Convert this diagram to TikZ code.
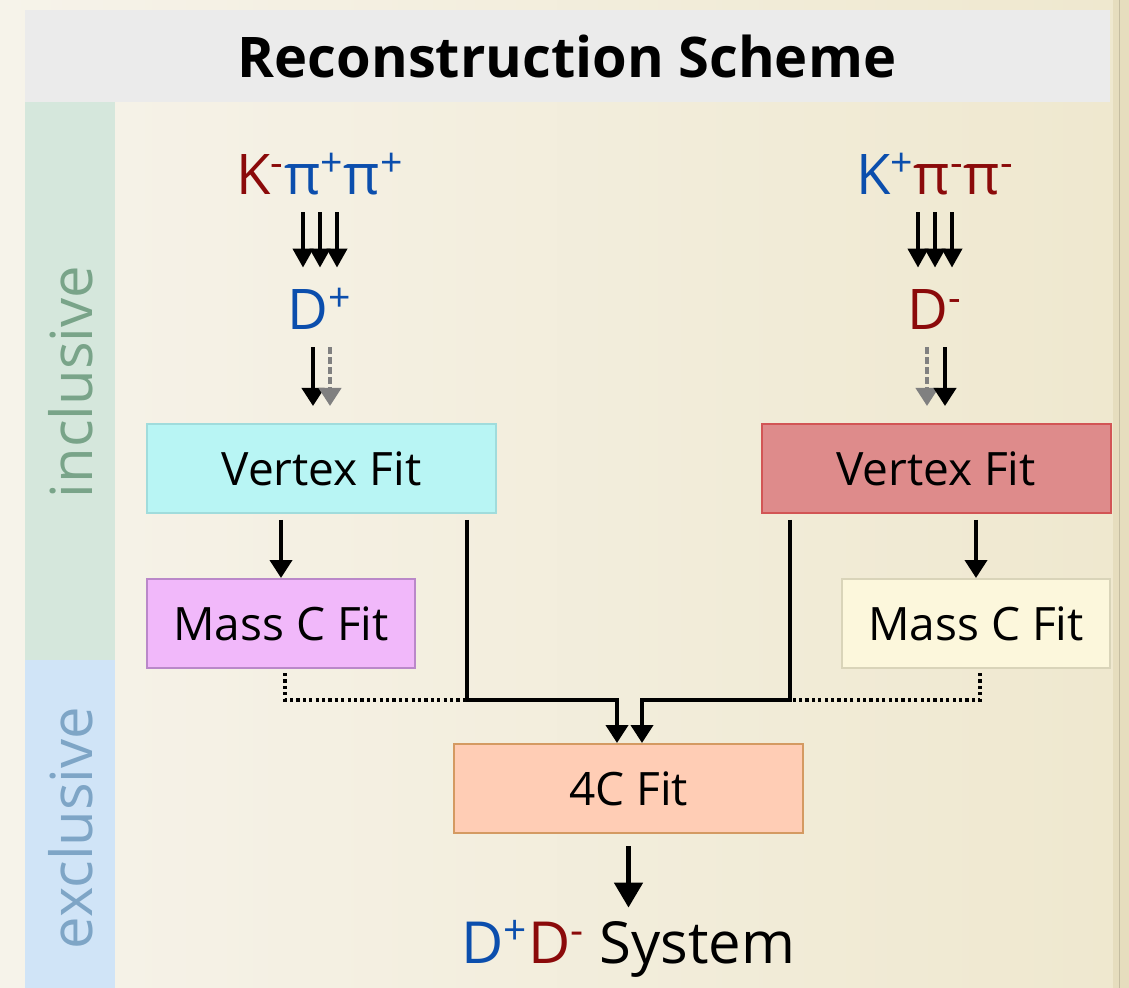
\documentclass[tikz,border=0pt]{standalone}
\usepackage{fontspec}
\setmainfont{Open Sans}
\usetikzlibrary{arrows.meta}
\definecolor{bgleft}{HTML}{F6F3EA}
\definecolor{bgright}{HTML}{EFE8CF}
\definecolor{strip}{HTML}{E6DDBE}
\definecolor{titlegray}{HTML}{EBEBEB}
\definecolor{incbar}{HTML}{D5E7DC}
\definecolor{inctext}{HTML}{79A489}
\definecolor{excbar}{HTML}{D0E4F7}
\definecolor{exctext}{HTML}{7EA5C6}
\definecolor{dred}{HTML}{8B0A0A}
\definecolor{dblue}{HTML}{0B4EAD}
\definecolor{cyanfill}{HTML}{B8F5F4}
\definecolor{cyanline}{HTML}{A0DCDC}
\definecolor{redfill}{HTML}{DE8B8B}
\definecolor{redline}{HTML}{D25555}
\definecolor{pinkfill}{HTML}{F1B8FA}
\definecolor{pinkline}{HTML}{BA88C9}
\definecolor{creamfill}{HTML}{FCF7DC}
\definecolor{creamline}{HTML}{D9D4B9}
\definecolor{peachfill}{HTML}{FFCDB5}
\definecolor{peachline}{HTML}{D49A62}
\tikzset{
  fitbox/.style={draw, line width=1pt, minimum width=174.5pt, minimum height=44.5pt,
    inner sep=0pt, font=\fontsize{23}{26}\selectfont},
  massbox/.style={fitbox, minimum width=134pt},
  particle/.style={inner sep=0pt, anchor=base, text height=20pt, text depth=0pt,
    font=\fontsize{28}{32}\selectfont},
  tri/.style={line width=2pt, -{Triangle[width=10pt,length=9.5pt]},
    shorten <=8.5pt, shorten >=11pt},
  arr/.style={line width=2pt, -{Triangle[width=11pt,length=9pt]}},
  dots/.style={line width=2pt, dash pattern=on 1.6pt off 1.6pt},
  side/.style={rotate=90, anchor=base, inner sep=0pt, font=\fontsize{29}{32}\selectfont}
}
\begin{document}
\begin{tikzpicture}[x=0.5pt, y=-0.5pt]
    \useasboundingbox (0,0) rectangle (1129,988);
    % background
    \shade[left color=bgleft, right color=bgright] (0,0) rectangle (1113,988);
    \fill[strip] (1113,0) rectangle (1129,988);
    \draw[strip!85!black, line width=0.5pt] (1119,0) -- (1119,988);
    % title bar
    \fill[titlegray] (25,10) rectangle (1110,102);
    \node[anchor=base, inner sep=0pt, font=\bfseries\fontsize{28}{32}\selectfont] (title) at (567,78) {Reconstruction Scheme};
    % side bars
    \fill[incbar] (25,102) rectangle (115,660);
    \fill[excbar] (25,660) rectangle (115,988);
    \node[side, text=inctext] (inc) at (92,382) {inclusive};
    \node[side, text=exctext] (exc) at (92,828) {exclusive};

    % D+ branch
    \node[particle] (lkpp) at (320,195) {\textcolor{dred}{K\textsuperscript{-}}\textcolor{dblue}{π\textsuperscript{+}π\textsuperscript{+}}};
    \node[particle, text=dblue] (ldp) at (320,330) {D\textsuperscript{+}};
    \node[fitbox, fill=cyanfill, draw=cyanline] (lvf) at (321.5,468.5) {Vertex Fit};
    \node[massbox, fill=pinkfill, draw=pinkline] (lmc) at (281,623.5) {Mass C Fit};

    % D- branch
    \node[particle] (rkpp) at (935,195) {\textcolor{dblue}{K\textsuperscript{+}}\textcolor{dred}{π\textsuperscript{-}π\textsuperscript{-}}};
    \node[particle, text=dred] (rdm) at (935,330) {D\textsuperscript{-}};
    \node[fitbox, fill=redfill, draw=redline] (rvf) at (936,468.5) {Vertex Fit};
    \node[massbox, fill=creamfill, draw=creamline] (rmc) at (976,623.5) {Mass C Fit};

    % combined
    \node[fitbox, fill=peachfill, draw=peachline] (fc) at (628.5,788.5) {4C Fit};
    \node[particle, text height=21.5pt, font=\fontsize{29}{33}\selectfont] (sys) at (628.5,963)
        {\textcolor{dblue}{D\textsuperscript{+}}\textcolor{dred}{D\textsuperscript{-}} System};
    \coordinate (ljoin) at (467,700);
    \coordinate (rjoin) at (790,700);

    % tracks to D mesons
    \foreach \dx in {-17,0,17} {
        \draw[tri] ([xshift=\dx*0.5pt]lkpp.south) -- ([xshift=\dx*0.5pt]ldp.north);
        \draw[tri] ([xshift=\dx*0.5pt]rkpp.south) -- ([xshift=\dx*0.5pt]rdm.north);
    }
    % D mesons to vertex fits
    \draw[arr, shorten <=8.5pt, shorten >=8.5pt] ([xshift=-3.5pt]ldp.south) -- ([xshift=-3.5pt]ldp.south |- lvf.north);
    \draw[arr, gray, dash pattern=on 3.5pt off 1.5pt, shorten <=8.5pt, shorten >=8.5pt] ([xshift=5pt]ldp.south) -- ([xshift=5pt]ldp.south |- lvf.north);
    \draw[arr, gray, dash pattern=on 3.5pt off 1.5pt, shorten <=8.5pt, shorten >=8.5pt] ([xshift=-4pt]rdm.south) -- ([xshift=-4pt]rdm.south |- rvf.north);
    \draw[arr, shorten <=8.5pt, shorten >=8.5pt] ([xshift=5pt]rdm.south) -- ([xshift=5pt]rdm.south |- rvf.north);
    % vertex fits to mass constraint fits
    \draw[arr, shorten <=3pt] (lmc.north |- lvf.south) -- (lmc.north);
    \draw[arr, shorten <=3pt] (rmc.north |- rvf.south) -- (rmc.north);
    % into the 4C fit
    \draw[arr, shorten <=3pt] (lvf.south -| ljoin) -- (ljoin) -| ([xshift=-5.75pt]fc.north);
    \draw[arr, shorten <=3pt] (rvf.south -| rjoin) -- (rjoin) -| ([xshift=6.75pt]fc.north);
    \draw[dots, shorten <=2pt] ([xshift=2pt]lmc.south) |- (ljoin);
    \draw[dots, shorten <=2pt] ([xshift=2pt]rmc.south) |- (rjoin);
    % final
    \draw[line width=2.5pt, -{Triangle[width=14pt,length=12.5pt]}, shorten <=6pt, shorten >=6pt] (fc.south) -- (sys.north);
\end{tikzpicture}
\end{document}
